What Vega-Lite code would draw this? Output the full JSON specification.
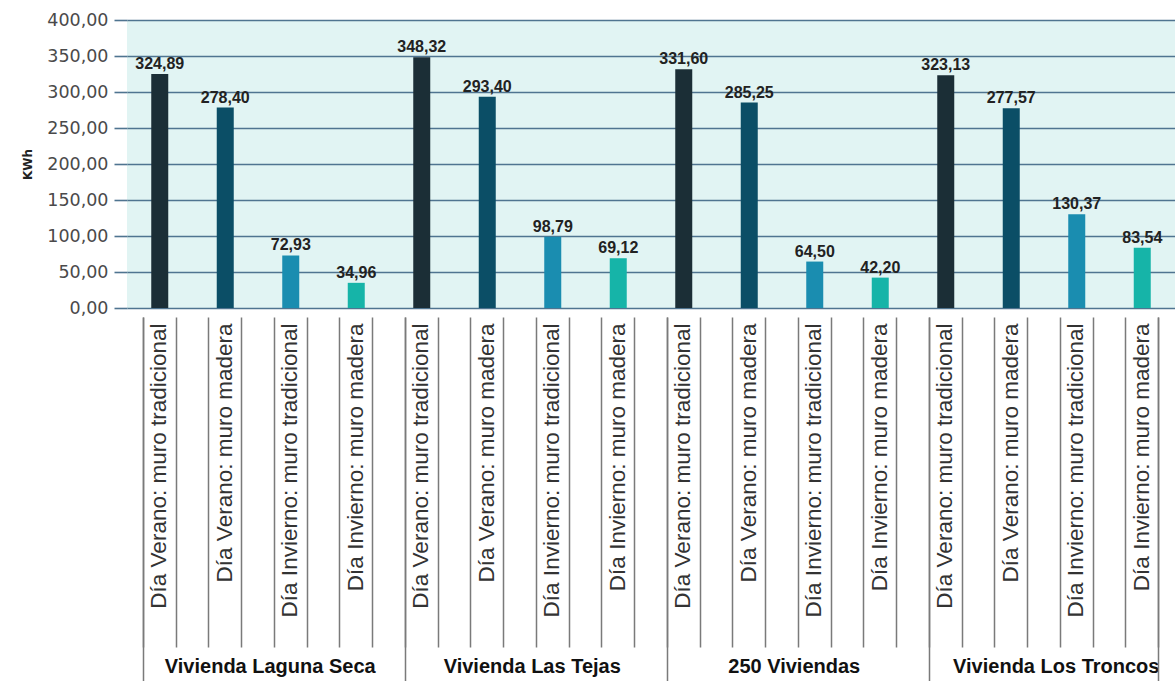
{
  "$schema": "https://vega.github.io/schema/vega-lite/v6.json",
  "width": 1048,
  "height": 288,
  "autosize": "none",
  "padding": {"left": 127, "top": 20, "right": 0, "bottom": 373},
  "background": "white",
  "config": {
    "locale": {"number": {"decimal": ",", "thousands": ".", "grouping": [3], "currency": ["", " €"]}},
    "view": {"fill": "#e1f4f3", "stroke": null}
  },
  "data": {"values": [
    {"group": "Vivienda Laguna Seca", "cat": "Día Verano: muro tradicional", "key": "Vivienda Laguna Seca|Día Verano: muro tradicional", "value": 324.89},
    {"group": "Vivienda Laguna Seca", "cat": "Día Verano: muro madera", "key": "Vivienda Laguna Seca|Día Verano: muro madera", "value": 278.40},
    {"group": "Vivienda Laguna Seca", "cat": "Día Invierno: muro tradicional", "key": "Vivienda Laguna Seca|Día Invierno: muro tradicional", "value": 72.93},
    {"group": "Vivienda Laguna Seca", "cat": "Día Invierno: muro madera", "key": "Vivienda Laguna Seca|Día Invierno: muro madera", "value": 34.96},
    {"group": "Vivienda Las Tejas", "cat": "Día Verano: muro tradicional", "key": "Vivienda Las Tejas|Día Verano: muro tradicional", "value": 348.32},
    {"group": "Vivienda Las Tejas", "cat": "Día Verano: muro madera", "key": "Vivienda Las Tejas|Día Verano: muro madera", "value": 293.40},
    {"group": "Vivienda Las Tejas", "cat": "Día Invierno: muro tradicional", "key": "Vivienda Las Tejas|Día Invierno: muro tradicional", "value": 98.79},
    {"group": "Vivienda Las Tejas", "cat": "Día Invierno: muro madera", "key": "Vivienda Las Tejas|Día Invierno: muro madera", "value": 69.12},
    {"group": "250 Viviendas", "cat": "Día Verano: muro tradicional", "key": "250 Viviendas|Día Verano: muro tradicional", "value": 331.60},
    {"group": "250 Viviendas", "cat": "Día Verano: muro madera", "key": "250 Viviendas|Día Verano: muro madera", "value": 285.25},
    {"group": "250 Viviendas", "cat": "Día Invierno: muro tradicional", "key": "250 Viviendas|Día Invierno: muro tradicional", "value": 64.50},
    {"group": "250 Viviendas", "cat": "Día Invierno: muro madera", "key": "250 Viviendas|Día Invierno: muro madera", "value": 42.20},
    {"group": "Vivienda Los Troncos", "cat": "Día Verano: muro tradicional", "key": "Vivienda Los Troncos|Día Verano: muro tradicional", "value": 323.13},
    {"group": "Vivienda Los Troncos", "cat": "Día Verano: muro madera", "key": "Vivienda Los Troncos|Día Verano: muro madera", "value": 277.57},
    {"group": "Vivienda Los Troncos", "cat": "Día Invierno: muro tradicional", "key": "Vivienda Los Troncos|Día Invierno: muro tradicional", "value": 130.37},
    {"group": "Vivienda Los Troncos", "cat": "Día Invierno: muro madera", "key": "Vivienda Los Troncos|Día Invierno: muro madera", "value": 83.54}
  ]},
  "encoding": {
    "y": {
      "field": "value", "type": "quantitative",
      "scale": {"domain": [0, 400], "nice": false},
      "axis": {
        "title": "KWh", "titleFont": "DejaVu Sans", "titleFontSize": 12, "titleFontWeight": "bold", "titleColor": "#222", "titlePadding": 12,
        "values": [0, 50, 100, 150, 200, 250, 300, 350, 400],
        "format": ".2f",
        "domain": false,
        "grid": true, "gridColor": "#4f7490", "gridWidth": 1.6, "gridOpacity": 1,
        "ticks": true, "tickSize": 13, "tickColor": "#4f7490", "tickWidth": 1.6,
        "labelFont": "DejaVu Sans", "labelFontSize": 17.5, "labelColor": "#4a4a4a", "labelPadding": 6
      }
    }
  },
  "layer": [
    {
      "mark": {"type": "bar", "size": 17},
      "encoding": {
        "x": {
          "field": "key", "type": "nominal", "sort": null,
          "scale": {"paddingInner": 0, "paddingOuter": 0},
          "axis": {
            "orient": "bottom", "offset": 9, "title": null, "domain": false, "grid": false,
            "ticks": true, "tickSize": 330, "tickOffset": -17, "tickColor": "#7a7a7a", "tickWidth": 1.5,
            "labelAngle": 270, "labelOffset": 16, "labelPadding": -324, "labelLimit": 500,
            "labelExpr": "split(datum.label, '|')[1]",
            "labelFont": "Liberation Sans", "labelFontSize": 22.5, "labelColor": "#333333"
          }
        },
        "color": {
          "field": "cat", "type": "nominal", "sort": null, "legend": null,
          "scale": {"range": ["#1b2e36", "#0b4e66", "#1a8db0", "#16b4a8"]}
        }
      }
    },
    {
      "mark": {"type": "text", "dy": -10, "font": "Liberation Sans", "fontWeight": "bold", "fontSize": 16, "color": "#222222"},
      "encoding": {
        "x": {
          "field": "key", "type": "nominal", "sort": null,
          "axis": {
            "orient": "bottom", "offset": 9, "title": null, "domain": false, "grid": false, "labels": false,
            "ticks": true, "tickSize": 330, "tickOffset": 16, "tickColor": "#7a7a7a", "tickWidth": 1.5
          }
        },
        "text": {"field": "value", "type": "quantitative", "format": ".2f"}
      }
    },
    {
      "mark": {"type": "bar", "opacity": 0},
      "encoding": {
        "x": {
          "field": "key", "type": "nominal", "sort": null,
          "axis": {
            "orient": "bottom", "offset": 9, "title": null, "domain": false, "grid": false,
            "values": ["Vivienda Laguna Seca|Día Verano: muro tradicional", "Vivienda Las Tejas|Día Verano: muro tradicional", "250 Viviendas|Día Verano: muro tradicional", "Vivienda Los Troncos|Día Verano: muro tradicional"],
            "ticks": true, "tickSize": 364, "tickOffset": -17, "tickColor": "#7a7a7a", "tickWidth": 1.5,
            "labelAngle": 0, "labelAlign": "center", "labelBaseline": "top", "labelOffset": 127, "labelPadding": -25, "labelLimit": 500,
            "labelExpr": "split(datum.label, '|')[0]",
            "labelFont": "Liberation Sans", "labelFontSize": 20, "labelFontWeight": "bold", "labelColor": "#111111"
          }
        }
      }
    },
    {
      "mark": {"type": "bar", "opacity": 0},
      "encoding": {
        "x": {
          "field": "key", "type": "nominal", "sort": null,
          "axis": {
            "orient": "bottom", "offset": 9, "title": null, "domain": false, "grid": false, "labels": false,
            "values": ["Vivienda Los Troncos|Día Invierno: muro madera"],
            "ticks": true, "tickSize": 364, "tickOffset": 16, "tickColor": "#7a7a7a", "tickWidth": 1.5
          }
        }
      }
    }
  ],
  "resolve": {"axis": {"x": "independent"}}
}
